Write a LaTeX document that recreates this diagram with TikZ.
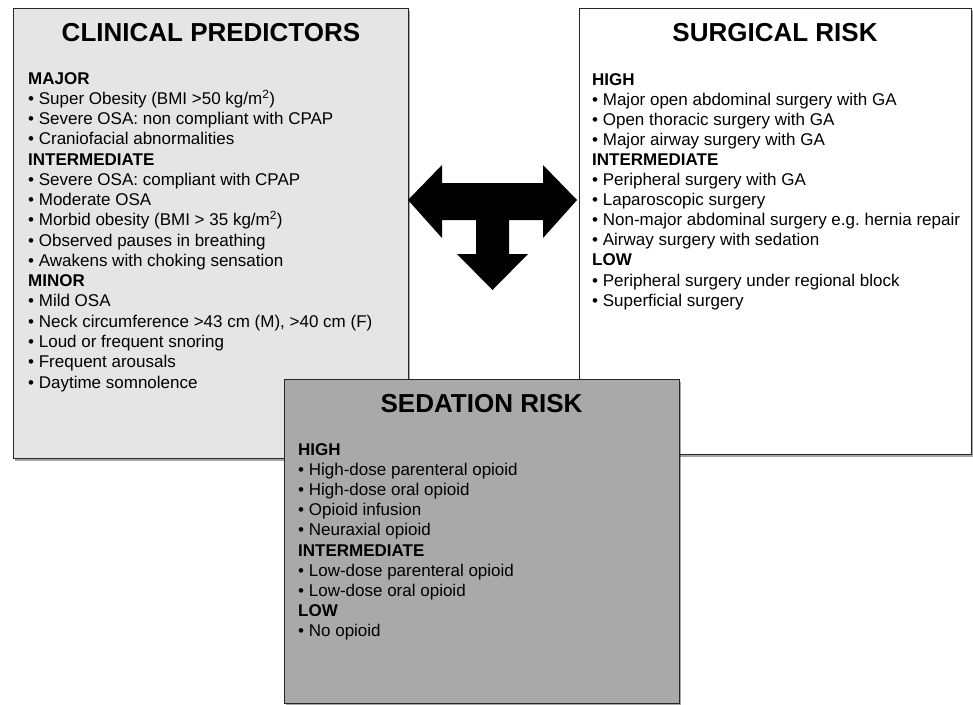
\documentclass[tikz,border=0pt]{standalone}
\usepackage{fontspec}
\setmainfont{Liberation Sans}
\usetikzlibrary{shadows}
\definecolor{lightbox}{HTML}{E5E5E5}
\definecolor{darkbox}{HTML}{A9A9A9}
\definecolor{edge}{HTML}{262626}
\frenchspacing
\begin{document}
\begin{tikzpicture}[x=1pt,y=-1pt,
  box/.style={draw=edge, line width=1.2pt, anchor=north west, inner sep=0pt,
    drop shadow={shadow xshift=1.2pt, shadow yshift=-2pt, opacity=0.35, fill=black}},
  boxtitle/.style={anchor=center, inner sep=0pt, font=\fontsize{26}{30}\selectfont\bfseries},
  itemline/.style={anchor=base west, inner sep=0pt, font=\fontsize{17}{20}\selectfont}]
\useasboundingbox (0,0) rectangle (973,704);
% boxes
\node[box, fill=lightbox, minimum width=395pt, minimum height=450pt] (cpbox) at (13,8) {};
\node[box, fill=white, minimum width=392pt, minimum height=446pt] (srbox) at (579,8) {};
% arrow
\fill[black] (408,200) -- (442,165) -- (442,183) -- (543,183) -- (543,165) -- (577,200)
  -- (543,238) -- (543,220) -- (509,220) -- (509,254) -- (528,254) -- (492.5,290)
  -- (457,254) -- (476,254) -- (476,220) -- (442,220) -- (442,238) -- cycle;
\node[box, fill=darkbox, minimum width=395pt, minimum height=324pt] (sdbox) at (284,379) {};
% titles
\node[boxtitle] (cptitle) at (211,32.5) {CLINICAL PREDICTORS};
\node[boxtitle] (srtitle) at (775,32.5) {SURGICAL RISK};
\node[boxtitle] (sdtitle) at (481.5,403.5) {SEDATION RISK};
% clinical predictors
\foreach \t [count=\i] in {
  {\textbf{MAJOR}},
  {• Super Obesity (BMI >50 kg/m\textsuperscript{2})},
  {• Severe OSA: non compliant with CPAP},
  {• Craniofacial abnormalities},
  {\textbf{INTERMEDIATE}},
  {• Severe OSA: compliant with CPAP},
  {• Moderate OSA},
  {• Morbid obesity (BMI > 35 kg/m\textsuperscript{2})},
  {• Observed pauses in breathing},
  {• Awakens with choking sensation},
  {\textbf{MINOR}},
  {• Mild OSA},
  {• Neck circumference >43 cm (M), >40 cm (F)},
  {• Loud or frequent snoring},
  {• Frequent arousals},
  {• Daytime somnolence}}
  \node[itemline] (cp\i) at (28,{84+20.27*(\i-1)}) {\t};
% surgical risk
\foreach \t [count=\i] in {
  {\textbf{HIGH}},
  {• Major open abdominal surgery with GA},
  {• Open thoracic surgery with GA},
  {• Major airway surgery with GA},
  {\textbf{INTERMEDIATE}},
  {• Peripheral surgery with GA},
  {• Laparoscopic surgery},
  {• Non-major abdominal surgery e.g. hernia repair},
  {• Airway surgery with sedation},
  {\textbf{LOW}},
  {• Peripheral surgery under regional block},
  {• Superficial surgery}}
  \node[itemline] (sr\i) at (592,{85+20.1*(\i-1)}) {\t};
% sedation risk
\foreach \t [count=\i] in {
  {\textbf{HIGH}},
  {• High-dose parenteral opioid},
  {• High-dose oral opioid},
  {• Opioid infusion},
  {• Neuraxial opioid},
  {\textbf{INTERMEDIATE}},
  {• Low-dose parenteral opioid},
  {• Low-dose oral opioid},
  {\textbf{LOW}},
  {• No opioid}}
  \node[itemline] (sd\i) at (298,{455+20.2*(\i-1)}) {\t};
\end{tikzpicture}
\end{document}
